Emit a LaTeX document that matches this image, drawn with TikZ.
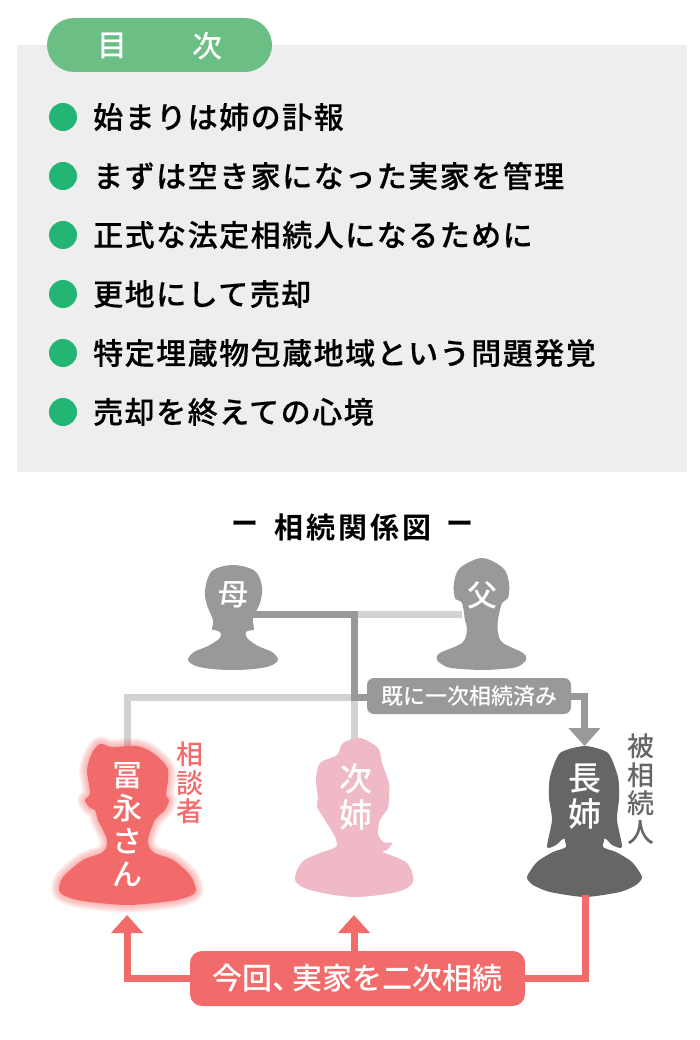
\documentclass[tikz,border=0pt]{standalone}
\usepackage{fontspec}
\setmainfont{Noto Sans CJK JP}
\newfontfamily\jpm{Noto Sans CJK JP Medium}
\newfontfamily\jpb[LetterSpace=5,FakeBold=0.3]{Noto Sans CJK JP Medium}
\newfontfamily\jpt[LetterSpace=10]{Noto Sans CJK JP Bold}
\newfontfamily\jpd{Noto Sans CJK JP Bold}
\usetikzlibrary{arrows.meta}
\definecolor{panel}{HTML}{EEEEEE}
\definecolor{pill}{HTML}{6BBE84}
\definecolor{dot}{HTML}{22B573}
\definecolor{redm}{HTML}{F26B6B}
\definecolor{pinkm}{HTML}{EFBAC6}
\definecolor{darkm}{HTML}{666666}
\definecolor{midm}{HTML}{999999}
\definecolor{lightm}{HTML}{D2D2D2}
\tikzset{
  rowdot/.style={circle,fill=dot,minimum size=28pt,inner sep=0pt},
  rowtext/.style={anchor=west,inner sep=0pt,text=black,font=\fontsize{30}{32}\jpb},
  face/.style={text=white,inner sep=0pt,align=center,font=\fontsize{30}{33}\jpm},
  side/.style={inner sep=0pt,align=center,font=\fontsize{27}{28.7}\jpm},
  nearline/.style={line width=7pt,draw=midm},
  farline/.style={line width=7pt,draw=lightm},
  redline/.style={line width=7pt,draw=redm},
  tipm/.style={-{Triangle[width=31pt,length=18pt]}}
}
\begin{document}
\begin{tikzpicture}[x=1pt,y=-1pt]
  \useasboundingbox (0,0) rectangle (700,1040);
  \fill[panel] (17,45) rectangle (687,472);
  \fill[pill,rounded corners=27pt] (47,18) rectangle (272,72);
  \node[text=white,font=\fontsize{30}{32}\jpm] (mokuji1) at (112,46) {目};
  \node[text=white,font=\fontsize{30}{32}\jpm] (mokuji2) at (207,46) {次};

  \foreach \n/\y/\t in {1/117/始まりは姉の訃報,2/176/まずは空き家になった実家を管理,3/235/正式な法定相続人になるために,4/294/更地にして売却,5/353/特定埋蔵物包蔵地域という問題発覚,6/412/売却を終えての心境}{
    \node[rowdot] (dot\n) at (63,\y) {};
    \node[rowtext] (row\n) at (93,\y) {\t};
  }

  \node[inner sep=0pt,font=\fontsize{29}{31}\jpt] (title) at (353,527) {相続関係図};
  \node[inner sep=0pt,font=\fontsize{27}{30}\jpd] (dashl) at (245,527) {ー};
  \node[inner sep=0pt,font=\fontsize{27}{30}\jpd] (dashr) at (460,527) {ー};

  \coordinate (momr) at (250,614);
  \coordinate (dadl) at (462,614);
  \coordinate (mid) at (354,614);
  \coordinate (midb) at (354,697);
  \coordinate (tomit) at (127,750);
  \coordinate (tomic) at (127,697);
  \coordinate (jishit) at (354,745);
  \coordinate (chot) at (584.5,746);
  \coordinate (choB) at (585,895);
  \coordinate (botlt) at (127,915);
  \coordinate (botmt) at (354,915);

  \draw[farline] (mid)--(dadl);
  \draw[farline] (tomit)--(tomic)--(midb);
  \draw[farline] (midb)--(jishit);
  \draw[nearline] (momr)--(mid)--(midb)--(370,697);

  % haha
  \fill[midm] plot[smooth cycle,tension=0.55] coordinates {(233,565) (212,571) (205,590) (207,605) (213,620) (212,629) (214,630) (220,632) (220,638) (208,646) (194,652) (188,660) (196,666) (212,669) (233,670) (254,669) (270,666) (278,660) (272,652) (258,646) (247,638) (246,632) (252,630) (254,629) (253,618) (260,603) (262,587) (255,571)};
  % chichi
  \fill[midm] plot[smooth cycle,tension=0.55] coordinates {(482,558) (460,568) (454,583) (455,598) (462,603) (465,620) (467,630) (462,643) (440,653) (437,660) (447,667) (462,669) (482,670) (502,669) (517,667) (526,660) (523,653) (503,643) (498,633) (498,620) (502,603) (508,598) (509,583) (503,568)};
  % tominaga
  \def\tomipath{plot[smooth cycle,tension=0.5] coordinates {(100,744) (112,747) (137,746) (153,753) (167,767) (168,780) (166,795) (169,800) (165,810) (155,820) (148,840) (153,852) (173,860) (190,875) (196,890) (190,896) (171,901) (127,905) (83,901) (65,896) (59,890) (63,877) (83,860) (103,852) (107,840) (98,820) (95,810) (90,808) (85,800) (90,793) (87,770) (92,753)}}
  \foreach \w in {16,14,12,10,8,6,4,2}{
    \draw[redm,opacity=0.08,line width=\w pt,line join=round] \tomipath;
  }
  \fill[redm] \tomipath;
  % jishi
  \fill[pinkm] plot[smooth cycle,tension=0.5] coordinates {(360,738) (343,743) (337,755) (320,763) (316,780) (318,798) (317,807) (325,820) (335,837) (336,847) (320,853) (302,862) (295,880) (310,890) (353,897) (397,892) (413,882) (407,863) (383,852) (387,850) (392,843) (383,842) (378,833) (380,820) (388,808) (389,798) (389,783) (382,763) (378,748)};
  % choshi
  \fill[darkm] plot[smooth cycle,tension=0.4] coordinates {(585,746) (560,753) (550,777) (549,798) (552,820) (547,847) (556,845) (566,838) (603,838) (612,845) (622,847) (617,820) (619,798) (618,777) (608,753)};
  \fill[darkm] plot[smooth cycle,tension=0.4] coordinates {(566,835) (566,847) (553,852) (537,862) (527,877) (533,885) (550,892) (585,897) (620,892) (636,885) (642,877) (632,862) (616,852) (603,847) (603,835)};

  \node[face] (haha) at (233,595) {母};
  \node[face] (chichi) at (482,595) {父};
  \node[face] (tomi) at (127,825) {冨\\永\\さ\\ん};
  \node[face,font=\fontsize{33}{36}\jpm] (jishi) at (356,797) {次\\姉};
  \node[face,font=\fontsize{33}{36}\jpm] (choshi) at (585,797) {長\\姉};
  \node[side,text=redm] (soudan) at (190,783) {相\\談\\者};
  \node[side,text=darkm] (hisou) at (641,789) {被\\相\\続\\人};

  \node[fill=midm,text=white,rounded corners=7pt,minimum width=204pt,minimum height=36pt,inner sep=0pt,font=\fontsize{22}{24}\jpm] (sumi) at (469,696) {既に一次相続済み};
  \draw[nearline,tipm] (sumi.east)-|(chot);

  \node[fill=redm,text=white,rounded corners=12pt,minimum width=335pt,minimum height=55pt,inner sep=0pt,font=\fontsize{30}{32}\jpm] (konkai) at (357.5,978.5) {今回、\kern-10pt実家を二次相続};
  \draw[redline,tipm] (konkai.west)-|(botlt);
  \draw[redline,tipm] (konkai.north-|botmt)--(botmt);
  \draw[redline] (konkai.east)-|(choB);
\end{tikzpicture}
\end{document}
